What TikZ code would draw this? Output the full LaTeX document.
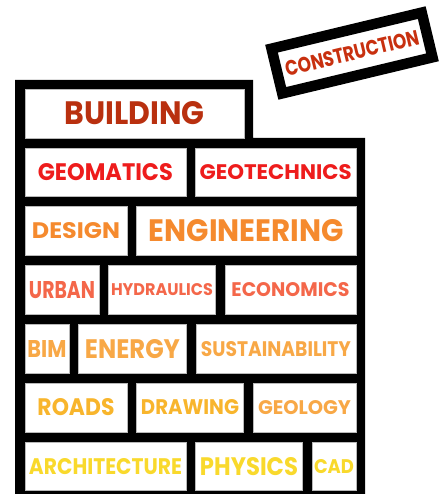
\documentclass[tikz,border=0pt]{standalone}
\usepackage{fontspec}
\setmainfont{Poppins}
\usepackage{graphicx}
\usetikzlibrary{positioning}
\definecolor{brickdark}{HTML}{B9300F}
\definecolor{brickred}{HTML}{EE1C1C}
\definecolor{brickorange}{HTML}{F58A2E}
\definecolor{brickcoral}{HTML}{F4674A}
\definecolor{bricklight}{HTML}{F8A846}
\definecolor{brickamber}{HTML}{F8B52C}
\definecolor{brickyellow}{HTML}{F9D92C}
\definecolor{signred}{HTML}{C8300F}
% word stretched to width x cap height (pt)
\newcommand{\word}[3]{\resizebox{#1pt}{#2pt}{\bfseries #3}}

\begin{document}
\begin{tikzpicture}[
    x=1pt, y=-1pt,
    brick/.style={
        rectangle,
        draw=gray!55,
        fill=white,
        line width=0.5pt,
        inner sep=0pt,
        outer sep=0pt,
        minimum height=48.8pt
    },
    sign/.style={
        rectangle,
        draw=black,
        fill=white,
        line width=10.5pt,
        inner sep=0pt,
        minimum width=154.5pt,
        minimum height=46pt
    }
]
\useasboundingbox (0,0) rectangle (445,494);

% wall
\fill[black] (15,80) -- (253,80) -- (253,138) -- (365,138) -- (365,494) -- (15,494) -- cycle;

% row 0
\node[brick, anchor=north west, minimum width=219pt, text=brickdark] (building) at (25,89) {\word{140}{23}{BUILDING}};

% row 1
\node[brick, anchor=north west, minimum width=160.75pt, text=brickred] (geomatics) at (25,147.8) {\word{135}{17}{GEOMATICS}};
\node[brick, right=9.5pt of geomatics, minimum width=160.75pt, text=brickred] (geotechnics) {\word{152}{15}{GEOTECHNICS}};

% row 2
\node[brick, anchor=north west, minimum width=102pt, text=brickorange] (design) at (25,206.6) {\word{88}{16}{DESIGN}};
\node[brick, right=9.5pt of design, minimum width=219.5pt, text=brickorange] (engineering) {\word{195}{22}{ENGINEERING}};

% row 3
\node[brick, anchor=north west, minimum width=74pt, text=brickcoral] (urban) at (25,265.4) {\word{66}{17}{URBAN}};
\node[brick, right=9.5pt of urban, minimum width=107pt, text=brickcoral] (hydraulics) {\word{102}{12}{HYDRAULICS}};
\node[brick, right=9.5pt of hydraulics, minimum width=131pt, text=brickcoral] (economics) {\word{118}{14}{ECONOMICS}};

% row 4
\node[brick, anchor=north west, minimum width=44pt, text=bricklight] (bim) at (25,324.2) {\word{39}{17}{BIM}};
\node[brick, right=9.5pt of bim, minimum width=108pt, text=bricklight] (energy) {\word{95}{19}{ENERGY}};
\node[brick, right=9.5pt of energy, minimum width=160pt, text=bricklight] (sustainability) {\word{150}{15}{SUSTAINABILITY}};

% row 5
\node[brick, anchor=north west, minimum width=102pt, text=brickamber] (roads) at (25,383) {\word{77}{17}{ROADS}};
\node[brick, right=9.5pt of roads, minimum width=107pt, text=brickamber] (drawing) {\word{98}{15}{DRAWING}};
\node[brick, right=9.5pt of drawing, minimum width=103pt, text=bricklight] (geology) {\word{93}{14}{GEOLOGY}};

% row 6
\node[brick, anchor=north west, minimum width=161pt, text=brickyellow] (architecture) at (25,441.8) {\word{153}{16}{ARCHITECTURE}};
\node[brick, right=9.5pt of architecture, minimum width=107pt, text=brickyellow] (physics) {\word{98}{18}{PHYSICS}};
\node[brick, right=9.5pt of physics, minimum width=44pt, text=brickyellow] (cad) {\word{40}{14}{CAD}};

% sign
\node[sign, rotate=13.5, text=signred] (construction) at (352,53) {\word{137}{15}{CONSTRUCTION}};

\end{tikzpicture}
\end{document}
